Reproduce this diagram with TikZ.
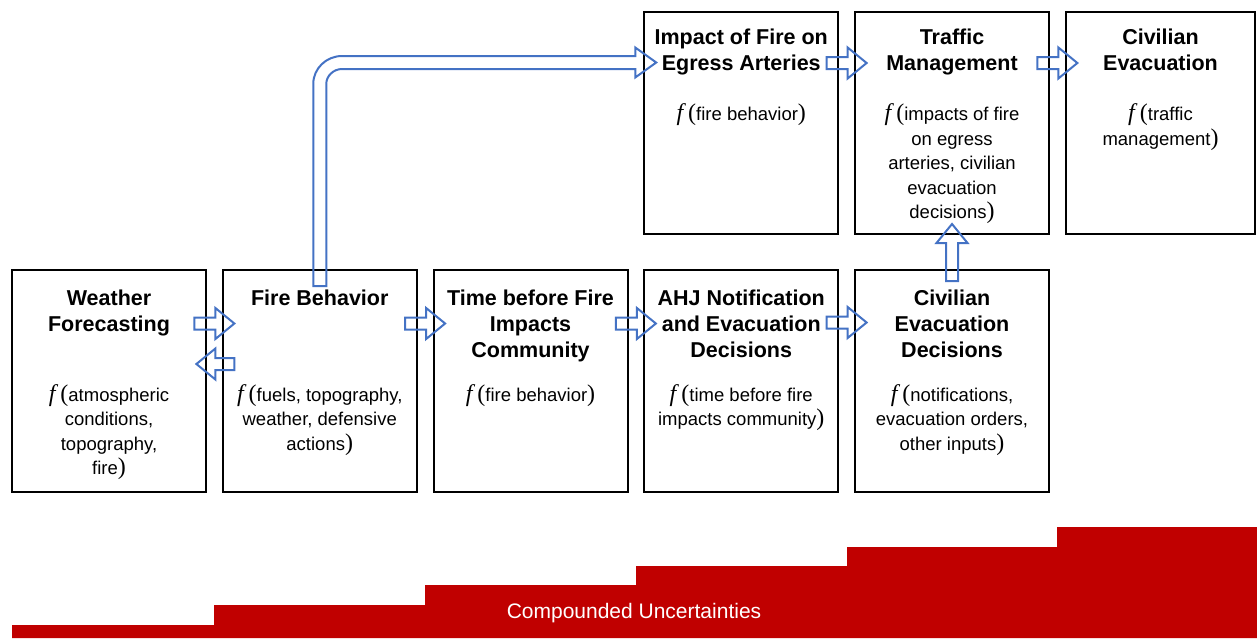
\documentclass[tikz,border=0pt]{standalone}
\usepackage{fontspec}
\setmainfont{Liberation Sans}
\newfontfamily\serifface{Liberation Serif}
\usetikzlibrary{calc}
\definecolor{arrowblue}{HTML}{4472C4}
\definecolor{stairred}{HTML}{C00000}
\newcommand\fopen{{\fontsize{24}{24}\selectfont\serifface\itshape f\hspace{5pt}\upshape(}}
\newcommand\fclose{{\fontsize{24}{24}\selectfont\serifface)}}
\tikzset{
  box/.style={draw=black, line width=2pt, minimum width=194pt, minimum height=222pt,
    anchor=north west, inner sep=0pt, outer sep=0pt},
  titletext/.style={anchor=north, inner sep=0pt, align=center,
    font=\fontsize{21.5}{26}\selectfont\bfseries},
  bodytext/.style={anchor=north, inner sep=0pt, align=center,
    font=\fontsize{18.5}{24.5}\selectfont},
  arrowline/.style={draw=arrowblue, line width=2pt, line join=miter},
  pics/barrow/.style={code={
    \draw[arrowline] (0,-6) -- ({#1-19},-6) -- ({#1-19},-15.5) -- (#1,0)
      -- ({#1-19},15.5) -- ({#1-19},6) -- (0,6) -- cycle;}},
}
\newcommand\tstrut{\rule{0pt}{22pt}}
\newcommand\bstrut{\rule{0pt}{20pt}}
\begin{document}
\begin{tikzpicture}[x=1pt,y=-1pt]
\useasboundingbox (0,0) rectangle (1257,638);

% bottom row boxes
\node[box] (wf) at (12,270) {};
\node[box] (fb) at (222.75,270) {};
\node[box] (tb) at (433.5,270) {};
\node[box] (ahj) at (644.25,270) {};
\node[box] (ced) at (855,270) {};
% top row boxes
\node[box] (imp) at (644.25,12) {};
\node[box] (tm) at (855,12) {};
\node[box, minimum width=189.5pt] (ce) at (1065.75,12) {};

% titles bottom row
\node[titletext] (wft) at ($(wf.north)+(0,13)$) {\tstrut Weather\\Forecasting};
\node[titletext] (fbt) at ($(fb.north)+(0,13)$) {\tstrut Fire Behavior};
\node[titletext] (tbt) at ($(tb.north)+(0,13)$) {\tstrut Time before Fire\\Impacts\\Community};
\node[titletext] (ahjt) at ($(ahj.north)+(0,13)$) {\tstrut AHJ Notification\\and Evacuation\\Decisions};
\node[titletext] (cedt) at ($(ced.north)+(0,13)$) {\tstrut Civilian\\Evacuation\\Decisions};
% titles top row
\node[titletext] (impt) at ($(imp.north)+(0,10.5)$) {\tstrut Impact of Fire on\\Egress Arteries};
\node[titletext] (tmt) at ($(tm.north)+(0,10.5)$) {\tstrut Traffic\\Management};
\node[titletext] (cet) at ($(ce.north)+(0,10.5)$) {\tstrut Civilian\\Evacuation};

% bodies bottom row
\node[bodytext] (wfb) at ($(wf.north)+(0,111)$) {\bstrut\fopen atmospheric\\conditions,\\topography,\\fire\fclose};
\node[bodytext] (fbb) at ($(fb.north)+(0,111)$) {\bstrut\fopen fuels, topography,\\weather, defensive\\actions\fclose};
\node[bodytext] (tbb) at ($(tb.north)+(0,111)$) {\bstrut\fopen fire behavior\fclose};
\node[bodytext] (ahjb) at ($(ahj.north)+(0,111)$) {\bstrut\fopen time before fire\\impacts community\fclose};
\node[bodytext] (cedb) at ($(ced.north)+(0,111)$) {\bstrut\fopen notifications,\\evacuation orders,\\other inputs\fclose};
% bodies top row
\node[bodytext] (impb) at ($(imp.north)+(0,88.5)$) {\bstrut\fopen fire behavior\fclose};
\node[bodytext] (tmb) at ($(tm.north)+(0,88.5)$) {\bstrut\fopen impacts of fire\\on egress\\arteries, civilian\\evacuation\\decisions\fclose};
\node[bodytext] (ceb) at ($(ce.north)+(0,88.5)$) {\bstrut\fopen traffic\\management\fclose};

% block arrows
\pic at ($(wf.north east)!0.5!(fb.north west)+(-20,53.5)$) {barrow=40};
\pic[rotate=180] at ($(wf.north east)!0.5!(fb.north west)+(20,94)$) {barrow=38};
\pic at ($(fb.north east)!0.5!(tb.north west)+(-20,53.5)$) {barrow=40};
\pic at ($(tb.north east)!0.5!(ahj.north west)+(-20,53.5)$) {barrow=40};
\pic at ($(ahj.north east)!0.5!(ced.north west)+(-20,52.5)$) {barrow=40};
\pic at ($(imp.north east)!0.5!(tm.north west)+(-20,51)$) {barrow=40};
\pic at ($(tm.north east)!0.5!(ce.north west)+(-20,51)$) {barrow=40};
\pic[rotate=90] at ($(ced.north)+(0,11)$) {barrow=57};

% bent arrow from Fire Behavior to Impact of Fire on Egress Arteries
\coordinate (bA) at ($(fb.north)+(-6.5,16)$);
\coordinate (bC) at (bA |- 0,84);
\coordinate (bT) at ($(imp.west)+(12,-60.5)$);
\draw[arrowline] (bA) -- (bC) .. controls ($(bC)+(0,-15.5)$) and ($(bC)+(13,-28)$) .. ($(bC)+(28.75,-28)$)
  -- ($(bT)+(-21,-6.5)$) -- ($(bT)+(-21,-15)$) -- (bT) -- ($(bT)+(-21,15)$) -- ($(bT)+(-21,6.5)$)
  -- ($(bC)+(28.75,-15)$) .. controls ($(bC)+(20.5,-15)$) and ($(bC)+(13,-8.3)$) .. ($(bC)+(13,0)$)
  -- ($(bA)+(13,0)$) -- cycle;

% staircase
\fill[stairred] (12,638) -- (12,625) -- (214,625) -- (214,605) -- (425,605) -- (425,585)
  -- (636,585) -- (636,566) -- (847,566) -- (847,547) -- (1057,547) -- (1057,527)
  -- (1257,527) -- (1257,638) -- cycle;
\node[anchor=base, inner sep=0pt, text=white, font=\fontsize{21}{21}\selectfont] (cu) at (634,618) {Compounded Uncertainties};
\end{tikzpicture}
\end{document}
